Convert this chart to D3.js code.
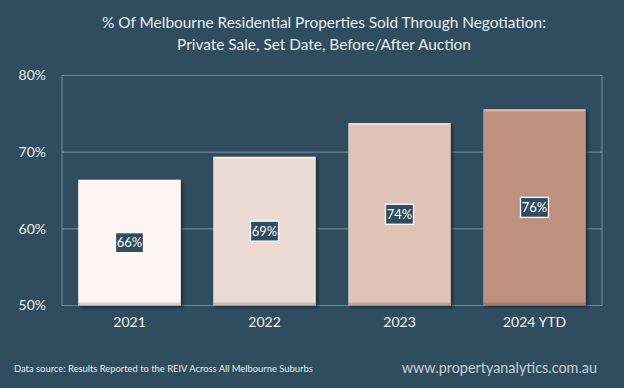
<!DOCTYPE html>
<html>
<head>
<meta charset="utf-8">
<script src="https://cdn.jsdelivr.net/npm/d3@7"></script>
<style>
  body { margin: 0; background: #2f4d5f; }
  svg { display: block; }
</style>
</head>
<body>
<div id="chart"></div>
<script>
// chart data
var years = ["2021", "2022", "2023", "2024 YTD"];
var shares = [66.4, 69.4, 73.8, 75.6];
var labels = ["66%", "69%", "74%", "76%"];
var barColors = ["#fdf4f1", "#ecdbd4", "#dfc3b7", "#bf9180"];
var yTicks = [50, 60, 70, 80];

var width = 624,
    height = 388;

var svg = d3.select("#chart").append("svg")
    .attr("width", width)
    .attr("height", height);

svg.append("rect")
    .attr("width", width)
    .attr("height", height)
    .attr("fill", "#2f4d5f");

// soft shadow so the bars look raised
var defs = svg.append("defs");
var f = defs.append("filter").attr("id", "shade")
    .attr("x", "-10%").attr("y", "-10%").attr("width", "130%").attr("height", "130%");
f.append("feDropShadow")
    .attr("dx", 2).attr("dy", 2).attr("stdDeviation", 1.2)
    .attr("flood-color", "#0d1d26").attr("flood-opacity", 0.7);

var plotL = 62, plotR = 602, plotT = 75.5, plotB = 305.5;
var font = "Lato, 'Open Sans', sans-serif";

var x = d3.scaleBand()
    .domain(years)
    .range([plotL, plotR])
    .paddingInner(0.24)
    .paddingOuter(0.12);

var y = d3.scaleLinear()
    .domain([50, 80])
    .range([plotB, plotT]);

// title
var title = svg.append("text")
    .attr("text-anchor", "middle")
    .style("font-family", font)
    .style("font-size", "15.4px")
    .attr("fill", "#e8eef1");
title.append("tspan").attr("x", 324).attr("y", 28)
    .text("% Of Melbourne Residential Properties Sold Through Negotiation:");
title.append("tspan").attr("x", 324).attr("y", 50)
    .text("Private Sale, Set Date, Before/After Auction");

// gridlines + frame
svg.append("g")
    .selectAll("line")
    .data(yTicks)
    .enter().append("line")
    .attr("x1", plotL)
    .attr("x2", plotR)
    .attr("y1", function (d) { return y(d); })
    .attr("y2", function (d) { return y(d); })
    .attr("stroke", "#6e8694")
    .attr("stroke-width", 1.2);

svg.append("line")
    .attr("x1", plotL).attr("x2", plotL)
    .attr("y1", plotT).attr("y2", plotB)
    .attr("stroke", "#6e8694").attr("stroke-width", 1.2);
svg.append("line")
    .attr("x1", plotR).attr("x2", plotR)
    .attr("y1", plotT).attr("y2", plotB)
    .attr("stroke", "#6e8694").attr("stroke-width", 1.2);

// y axis labels
var yAxis = svg.append("g")
    .attr("transform", "translate(" + (plotL - 13) + ",0)")
    .call(d3.axisLeft(y).tickValues(yTicks).tickSize(0).tickFormat(function (d) { return d + "%"; }));
yAxis.select(".domain").remove();
yAxis.selectAll("text")
    .style("font-family", font)
    .style("font-size", "14px")
    .attr("fill", "#e8eef1");

// x axis labels
var xAxis = svg.append("g")
    .attr("transform", "translate(0," + (plotB + 9) + ")")
    .call(d3.axisBottom(x).tickSize(0));
xAxis.select(".domain").remove();
xAxis.selectAll("text")
    .style("font-family", font)
    .style("font-size", "14px")
    .attr("fill", "#f2f5f7");

// bars
var bars = svg.append("g")
    .selectAll("g")
    .data(years)
    .enter().append("g");

bars.append("rect")
    .attr("x", function (d) { return x(d); })
    .attr("y", function (d, i) { return y(shares[i]); })
    .attr("width", x.bandwidth())
    .attr("height", function (d, i) { return plotB - y(shares[i]); })
    .attr("fill", function (d, i) { return barColors[i]; })
    .attr("filter", "url(#shade)");

// highlight on top edge
bars.append("rect")
    .attr("x", function (d) { return x(d) + 1; })
    .attr("y", function (d, i) { return y(shares[i]); })
    .attr("width", x.bandwidth() - 2)
    .attr("height", 2)
    .attr("fill", "#ffffff")
    .attr("opacity", 0.45);

// darker strip at the bottom
bars.append("rect")
    .attr("x", function (d) { return x(d); })
    .attr("y", plotB - 3)
    .attr("width", x.bandwidth())
    .attr("height", 3)
    .attr("fill", "#000")
    .attr("opacity", 0.15);

// value labels
var lab = bars.append("g")
    .attr("transform", function (d, i) {
        var cy = (y(shares[i]) + plotB) / 2;
        return "translate(" + (x(d) + x.bandwidth() / 2) + "," + cy + ")";
    });
lab.append("rect")
    .attr("x", -14).attr("y", -10)
    .attr("width", 28).attr("height", 20)
    .attr("fill", "#2f4d5f")
    .attr("stroke", "#ffffff")
    .attr("stroke-width", 1.3);
lab.append("text")
    .attr("text-anchor", "middle")
    .attr("dy", "0.36em")
    .style("font-family", font)
    .style("font-size", "13px")
    .attr("fill", "#ffffff")
    .text(function (d, i) { return labels[i]; });

// footer
svg.append("text")
    .attr("x", 14).attr("y", 372)
    .style("font-family", font)
    .style("font-size", "9.4px")
    .attr("fill", "#e8eef1")
    .text("Data source: Results Reported to the REIV Across All Melbourne Suburbs");

svg.append("text")
    .attr("x", 597).attr("y", 373)
    .attr("text-anchor", "end")
    .style("font-family", font)
    .style("font-size", "14.4px")
    .attr("fill", "#c5ced4")
    .text("www.propertyanalytics.com.au");
</script>
</body>
</html>
